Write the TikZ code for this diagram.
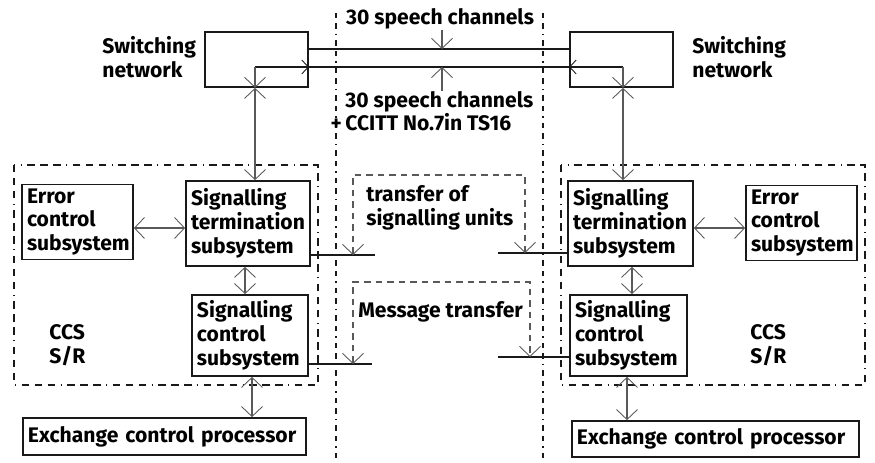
\documentclass[tikz,border=0pt]{standalone}
\usepackage{fontspec}
\setmainfont{Fira Sans}
\usetikzlibrary{arrows.meta}
\definecolor{ink}{gray}{0.1}
\definecolor{wire}{gray}{0.35}
\tikzset{
  blk/.style={draw=ink,line width=1pt,align=left,inner xsep=1mm,inner ysep=0.8mm},
  swbox/.style={draw=ink,line width=1pt,minimum width=20.6mm,minimum height=11mm},
  txt/.style={align=left,inner sep=0pt},
  trunk/.style={ink,line width=1.4pt},
  link/.style={wire,line width=0.7pt},
  sline/.style={ink,line width=1pt},
  frame/.style={wire,line width=0.6pt,dash pattern=on 1.3mm off 1mm},
  ccs/.style={ink,line width=0.8pt,dash pattern=on 1.5mm off 1.1mm on 1.5mm off 1.1mm on 1.5mm off 1.1mm on 0.2mm off 1.1mm},
  border/.style={ink,line width=1pt,dash pattern=on 1.1mm off 1mm on 1.1mm off 1mm on 0.3mm off 1mm},
  sbarb/.tip={Straight Barb[length=1.3mm,width=2.8mm,line width=0.5pt]}
}
\begin{document}
\begin{tikzpicture}[x=0.2mm,y=-0.2mm,font=\fontsize{12}{13.6}\selectfont\bfseries,
  >={Straight Barb[length=2mm,width=4.2mm,line width=0.5pt]}]
\useasboundingbox (0,0) rectangle (875,463);

\foreach \x in {336,543}
  \draw[border] (\x,13) -- (\x,463);
\foreach \x in {14,561}
  \draw[ccs] (\x,165) rectangle (\x+304,385);

% switching networks
\node[swbox] (lsw) at (256.5,59.5) {};
\node[swbox] (rsw) at (621.5,59.5) {};
\node[txt,anchor=west] (lswl) at (102,57) {Switching\\network};
\node[txt,anchor=west] (rswl) at (692,57) {Switching\\network};

% left side
\node[blk,text width=20.2mm,minimum height=14.8mm] (lerr) at (77.5,222) {Error\\control\\subsystem};
\node[blk,text width=22.8mm,minimum height=17mm] (lst) at (248,223.5) {Signalling\\termination\\subsystem};
\node[blk,text width=21.2mm,minimum height=16.2mm] (lsc) at (250,335.5) {Signalling\\control\\subsystem};
\node[blk,text width=54.6mm,minimum height=7.4mm] (lecp) at (164.5,436.5) {Exchange control processor};
\node[txt,anchor=west] (lccs) at (49,345) {CCS\\S/R};

% right side
\node[blk,text width=23mm,minimum height=17mm] (rst) at (630.5,223.5) {Signalling\\termination\\subsystem};
\node[blk,text width=20.2mm,minimum height=14.4mm] (rerr) at (801.5,223) {Error\\control\\subsystem};
\node[blk,text width=21.4mm,minimum height=16.2mm] (rsc) at (628.5,335.5) {Signalling\\control\\subsystem};
\node[blk,text width=55.4mm,minimum height=7.2mm] (recp) at (715.5,439) {Exchange control processor};
\node[txt,anchor=west] (rccs) at (750,345) {CCS\\S/R};

% speech channels
\node[txt,anchor=base] (tsc) at (440,25) {30 speech channels};
\node[txt,anchor=north west,font=\fontsize{12}{11.8}\selectfont\bfseries] (bsc) at (345,91)
  {30 speech channels\\\llap{+\,}CCITT No.7in TS16};

\coordinate (lup) at ([xshift=-0.3mm]lsw.south);
\coordinate (rup) at ([xshift=0.3mm]rsw.south);
\coordinate (lin) at ([yshift=-1.5mm]lsw.east);
\coordinate (rin) at ([yshift=-1.5mm]rsw.west);
\coordinate (tp) at (442,49);
\coordinate (bp) at (442,67);

\draw[trunk] ([yshift=2.1mm]lsw.east) -- ([yshift=2.1mm]rsw.west);
\draw[trunk,-sbarb] (lup |- lin) -- (lin);
\draw[trunk] (lin) -- (rin);
\draw[trunk,sbarb-] (rin) -- (rup |- rin);
\draw[link,<-] (lup) -- (lup |- lin);
\draw[link,<-] (rup) -- (rup |- rin);
\draw[link,<->] (lup) -- (lup |- lst.north);
\draw[link,<->] (rup) -- (rup |- rst.north);
\draw[link,->] (tp |- tsc.south) -- (tp);
\draw[link,->] (bp |- bsc.north) -- (bp);

% connections inside the CCS blocks
\draw[link,<->] ([yshift=-1.2mm]lerr.east) -- ([yshift=-1.2mm]lerr.east -| lst.west);
\draw[link,<->] ([xshift=-0.6mm]lst.south) -- ([xshift=-0.6mm]lst.south |- lsc.north);
\draw[link,<->] ([xshift=0.4mm]lsc.south) -- ([xshift=0.4mm]lsc.south |- lecp.north);
\draw[link,<->] ([yshift=-0.9mm]rst.east) -- ([yshift=-0.9mm]rst.east -| rerr.west);
\draw[link,<->] ([xshift=0.3mm]rst.south) -- ([xshift=0.3mm]rst.south |- rsc.north);
\draw[link,<->] ([xshift=-0.3mm]rsc.south) -- ([xshift=-0.3mm]rsc.south |- recp.north);

% transfer between the two ends
\coordinate (lsu) at (375,255);
\coordinate (rsu) at (498,253);
\coordinate (lmt) at (372,364);
\coordinate (rmt) at (498,357);
\draw[sline] (lsu -| lst.east) -- (lsu);
\draw[sline] (rsu) -- (rsu -| rst.west);
\draw[sline] (lmt -| lsc.east) -- (lmt);
\draw[sline] (rmt) -- (rmt -| rsc.west);
\draw[frame,<->] (353,255) -- ++(0,-80) -| (525,253);
\draw[frame,<->] (353,364) -- ++(0,-82) -| (530,357);
\node[txt,anchor=west] (tsu) at (366,208) {transfer of\\signalling units};
\node[txt,anchor=west] (tmt) at (358,312) {Message transfer};
\end{tikzpicture}
\end{document}
